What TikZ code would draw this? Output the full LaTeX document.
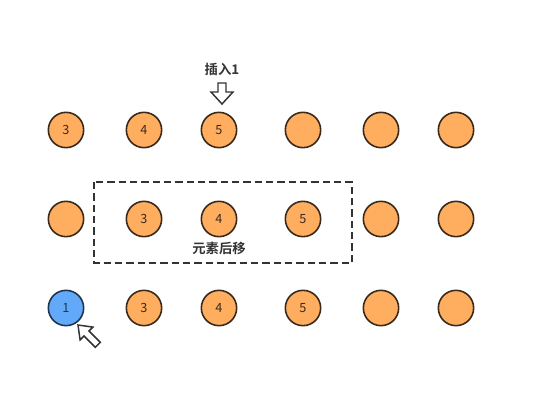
\documentclass[tikz,border=0pt]{standalone}
\usepackage{fontspec}
\setmainfont{Noto Sans CJK SC}
\newfontfamily\cjkbold{Noto Sans CJK SC Bold}
\usetikzlibrary{positioning}

\definecolor{ballorange}{HTML}{FFAD5F}
\definecolor{ballblue}{HTML}{63A9FA}
\definecolor{balledge}{HTML}{3A2A1C}
\definecolor{blueedge}{HTML}{1E3550}
\definecolor{labelgray}{HTML}{333333}

\begin{document}
\begin{tikzpicture}[
    x=0.75pt, y=-0.75pt,
    onode/.style={circle, draw=balledge, fill=ballorange, line width=1.2pt,
                  minimum size=26.5pt, inner sep=0pt, font=\fontsize{9.5}{9.5}\selectfont,
                  text=balledge},
    bnode/.style={onode, draw=blueedge, fill=ballblue, text=blueedge},
    tag/.style={font=\cjkbold\fontsize{10}{10}\selectfont, text=labelgray},
    hollow/.style={draw=labelgray, fill=white, line width=1.1pt, line join=miter}
]
\useasboundingbox (0,0) rectangle (536,414);

% --- before insert (top) ---
\node[onode] (a1) at (66,130) {3};
\node[onode] (a2) at (144,130) {4};
\node[onode] (a3) at (219,130) {5};
\node[onode] (a4) at (303,130) {};
\node[onode] (a5) at (381,130) {};
\node[onode] (a6) at (456,130) {};

\node[tag] (ins) at (222,69) {插入1};
\draw[hollow] (218,83) -- (226,83) -- (226,92) -- (233,92) -- (222,104)
    -- (211,92) -- (218,92) -- cycle;

% --- shifting (middle) ---
\node[onode] (b1) at (66,219) {};
\node[onode] (b2) at (144,219) {3};
\node[onode] (b3) at (219,219) {4};
\node[onode] (b4) at (303,219) {5};
\node[onode] (b5) at (381,219) {};
\node[onode] (b6) at (456,219) {};

\draw[labelgray, line width=1.5pt, dash pattern=on 5.5pt off 3pt] (94,182) rectangle (352,263);
\node[tag] (shift) at (219,248) {元素后移};

% --- after insert (bottom) ---
\node[bnode] (c1) at (66,308) {1};
\node[onode] (c2) at (144,308) {3};
\node[onode] (c3) at (219,308) {4};
\node[onode] (c4) at (303,308) {5};
\node[onode] (c5) at (381,308) {};
\node[onode] (c6) at (456,308) {};

% cursor
\draw[hollow] (78,325) -- (92.9,327.1) -- (89,331) -- (100.3,342.3)
    -- (95.3,347.3) -- (84,336) -- (80.1,339.9) -- cycle;

\end{tikzpicture}
\end{document}
